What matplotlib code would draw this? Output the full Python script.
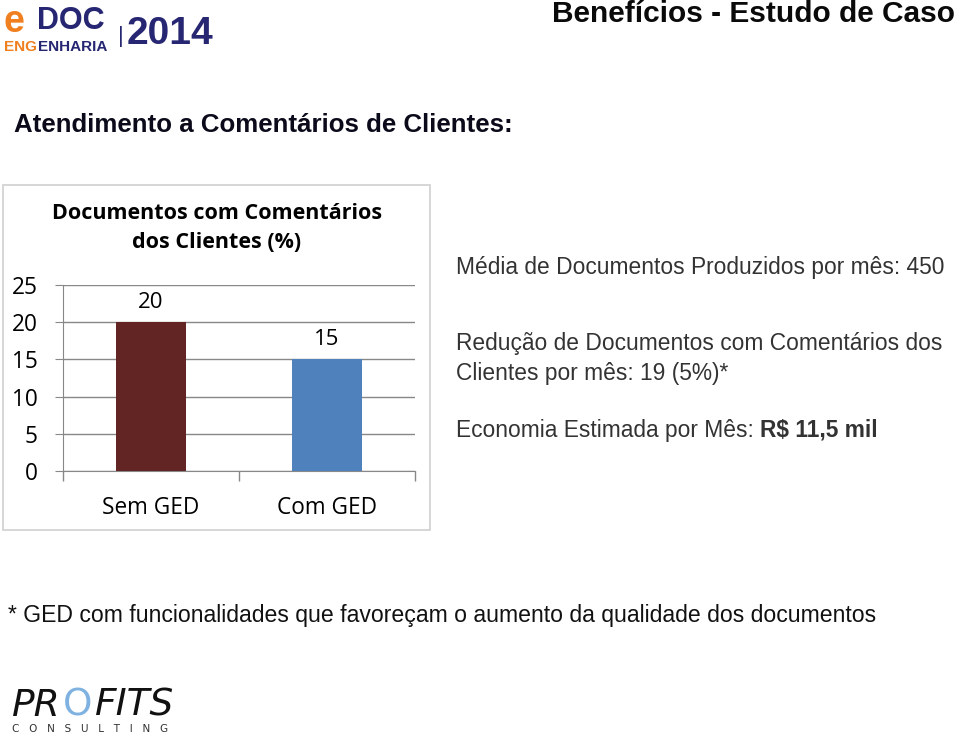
import matplotlib.pyplot as plt
from matplotlib.patches import Rectangle

categories = ['Sem GED', 'Com GED']
values = [20, 15]
bar_colors = ['#632523', '#4F81BD']
y_ticks = [0, 5, 10, 15, 20, 25]

fig = plt.figure(figsize=(9.6, 7.38), dpi=100)
fig.patch.set_facecolor('white')

# chart frame
fig.patches.append(Rectangle((0.003, 0.282), 0.445, 0.467, transform=fig.transFigure,
                             fill=False, edgecolor='#d0d0d0', linewidth=1.2))

ax = fig.add_axes([0.0656, 0.3618, 0.3667, 0.252])
x = range(len(categories))
bars = ax.bar(x, values, width=0.4, color=bar_colors, zorder=3)
ax.set_xlim(-0.5, 1.5)
ax.set_ylim(0, 25)
ax.set_yticks(y_ticks)
ax.set_xticks([-0.5, 0.5, 1.5], minor=False)
ax.set_xticklabels([])
ax.set_xticks(list(x), minor=True)
ax.set_xticklabels(categories, minor=True, fontsize=16.3, family='Open Sans')
ax.tick_params(axis='x', which='minor', length=0, pad=18)
ax.tick_params(axis='x', which='major', length=7, color='#888888', width=1)
ax.tick_params(axis='y', length=6, color='#888888', labelsize=16.3, pad=12)
for lab in ax.get_yticklabels():
    lab.set_family('Open Sans')
ax.grid(axis='y', color='#888888', linewidth=1, zorder=0)
for s in ['top', 'right']:
    ax.spines[s].set_visible(False)
ax.spines['left'].set_color('#888888')
ax.spines['bottom'].set_color('#888888')
for b, v in zip(bars, values):
    ax.text(b.get_x() + b.get_width() / 2, v + 1.2, str(v), ha='center', va='bottom',
            fontsize=16, family='Open Sans')

# chart title, centred on the frame
fig.text(0.226, 0.691, 'Documentos com Comentários\ndos Clientes (%)', ha='center', va='center',
         fontsize=15.5, fontweight='bold', family='Open Sans', linespacing=1.45)

# header
fig.text(0.995, 0.981, 'Benefícios - Estudo de Caso', ha='right', va='center',
         fontsize=21.5, fontweight='bold', family='Liberation Sans', color='#0a0a0a')
fig.text(0.015, 0.831, 'Atendimento a Comentários de Clientes:', ha='left', va='center',
         fontsize=18.6, fontweight='bold', family='Liberation Sans', color='#0a0a1a')

# logo eDOC
fig.text(0.004, 0.970, 'e', fontsize=27, fontweight='bold', color='#F07F1F',
         family='Liberation Sans', va='center')
fig.text(0.039, 0.972, 'DOC', fontsize=22, fontweight='bold', color='#262673',
         family='Liberation Sans', va='center')
fig.text(0.004, 0.936, 'ENG', fontsize=11, fontweight='bold', color='#F07F1F',
         family='Liberation Sans', va='center')
fig.text(0.040, 0.936, 'ENHARIA', fontsize=11, fontweight='bold', color='#262673',
         family='Liberation Sans', va='center')
fig.text(0.123, 0.950, '|', fontsize=16, color='#262673', family='Liberation Sans', va='center')
fig.text(0.132, 0.954, '2014', fontsize=28, fontweight='bold', color='#262673',
         family='Liberation Sans', va='center')

# right side info
info_color = '#333333'
fs = 16.4
fig.text(0.475, 0.637, 'Média de Documentos Produzidos por mês: 450', fontsize=fs,
         family='Liberation Sans', color=info_color, va='center')
fig.text(0.475, 0.534, 'Redução de Documentos com Comentários dos', fontsize=fs,
         family='Liberation Sans', color=info_color, va='center')
fig.text(0.475, 0.494, 'Clientes por mês: 19 (5%)*', fontsize=fs,
         family='Liberation Sans', color=info_color, va='center')
t = fig.text(0.475, 0.417, 'Economia Estimada por Mês: ', fontsize=fs,
             family='Liberation Sans', color=info_color, va='center')
fig.canvas.draw()
bb = t.get_window_extent().transformed(fig.transFigure.inverted())
fig.text(bb.x1, 0.417, 'R$ 11,5 mil', fontsize=fs, fontweight='bold',
         family='Liberation Sans', color=info_color, va='center')

# footnote
fig.text(0.008, 0.166, '* GED com funcionalidades que favoreçam o aumento da qualidade dos documentos',
         fontsize=16.6, family='Liberation Sans', color='#111111', va='center')

# logo PROFITS
fig.text(0.012, 0.044, 'PR', fontsize=27, style='italic', color='#111111',
         family='DejaVu Sans', va='center', fontweight='light')
fig.text(0.066, 0.044, 'O', fontsize=27, color='#7fb2e0', family='DejaVu Sans', va='center')
fig.text(0.099, 0.044, 'FITS', fontsize=27, style='italic', color='#111111',
         family='DejaVu Sans', va='center', fontweight='light')
fig.text(0.012, 0.005, 'C   O   N   S   U   L   T   I   N   G', fontsize=7.5, color='#333333',
         family='DejaVu Sans', va='bottom')

fig.savefig('out.png', dpi=100)
